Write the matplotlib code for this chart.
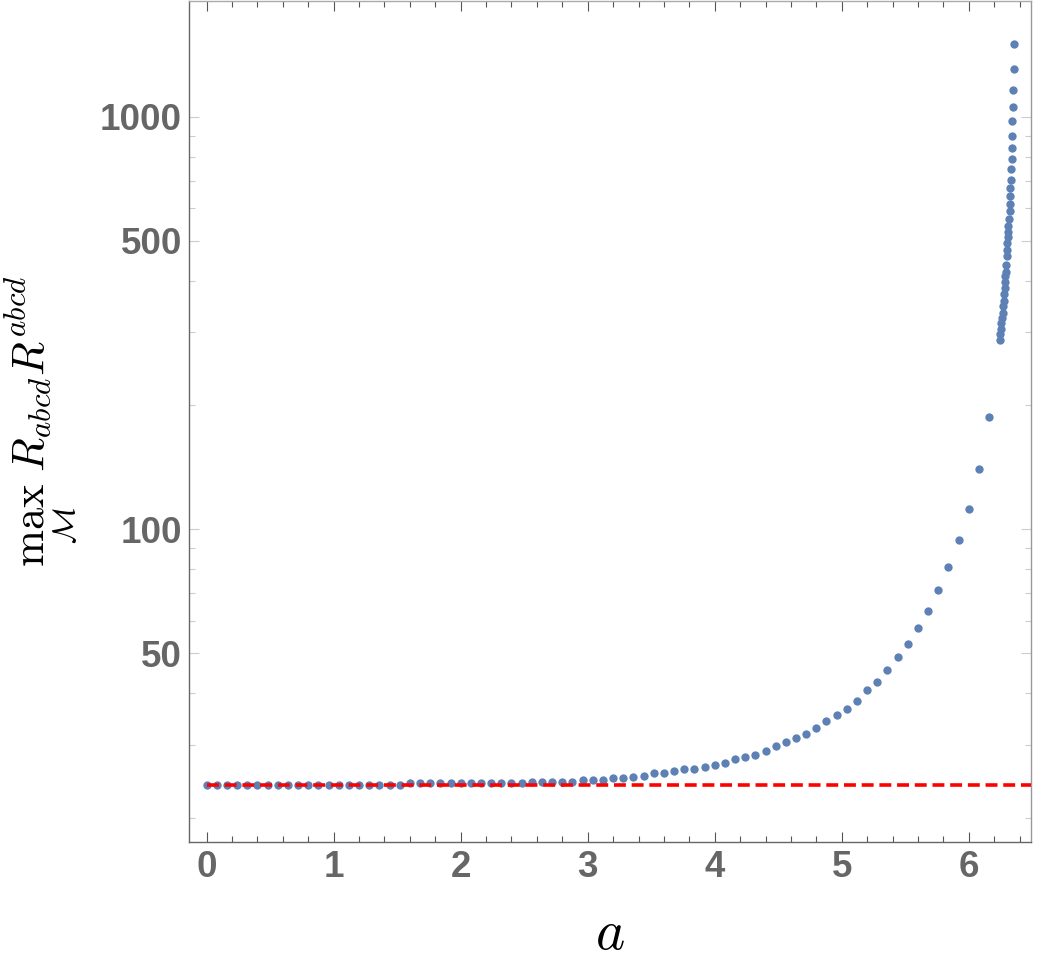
import matplotlib
matplotlib.use("Agg")
import matplotlib.pyplot as plt
from matplotlib.ticker import FixedLocator, NullFormatter

plt.rcParams["mathtext.fontset"] = "cm"

# sampled parameter values a and max curvature invariant
a_values = [
    0.00, 0.08, 0.16, 0.24, 0.32, 0.40, 0.48, 0.56, 0.64, 0.72,
    0.80, 0.88, 0.96, 1.04, 1.12, 1.20, 1.28, 1.36, 1.44, 1.52,
    1.60, 1.68, 1.76, 1.84, 1.92, 2.00, 2.08, 2.16, 2.24, 2.32,
    2.40, 2.48, 2.56, 2.64, 2.72, 2.80, 2.88, 2.96, 3.04, 3.12,
    3.20, 3.28, 3.36, 3.44, 3.52, 3.60, 3.68, 3.76, 3.84, 3.92,
    4.00, 4.08, 4.16, 4.24, 4.32, 4.40, 4.48, 4.56, 4.64, 4.72,
    4.80, 4.88, 4.96, 5.04, 5.12, 5.20, 5.28, 5.36, 5.44, 5.52,
    5.60, 5.68, 5.76, 5.84, 5.92, 6.00, 6.08, 6.16,
    6.244, 6.249, 6.255, 6.258, 6.262, 6.268, 6.272, 6.276, 6.279, 6.282,
    6.286, 6.289, 6.292, 6.296, 6.300, 6.302, 6.305, 6.307, 6.309, 6.313,
    6.318, 6.322, 6.324, 6.326, 6.328, 6.330, 6.335, 6.337, 6.339, 6.341,
    6.343, 6.345, 6.352, 6.355, 6.357,
]
max_kretschmann = [
    24.0, 24.0, 24.0, 24.0, 24.0, 24.0, 24.0, 24.0, 24.0, 24.0,
    24.0, 24.0, 24.0, 24.0, 24.0, 24.0, 24.0, 24.0, 24.0, 24.0,
    24.2, 24.2, 24.2, 24.2, 24.2, 24.2, 24.2, 24.2, 24.25, 24.25,
    24.25, 24.25, 24.45, 24.45, 24.45, 24.45, 24.45, 24.7, 24.7, 24.7,
    25.0, 25.0, 25.05, 25.3, 25.6, 25.6, 25.9, 26.2, 26.2, 26.55,
    26.85, 27.15, 27.75, 28.1, 28.4, 29.05, 29.75, 30.5, 31.2, 31.9,
    33.0, 34.2, 35.4, 36.7, 38.4, 40.7, 42.7, 45.7, 49.0, 52.6,
    57.7, 63.4, 71.2, 81.0, 94.2, 112.0, 140.0, 187.0,
    288, 298, 306, 317, 326, 335, 347, 358, 372, 385,
    398, 411, 420, 438, 460, 476, 493, 510, 526, 544,
    564, 591, 613, 641, 672, 704, 745, 791, 838, 898,
    975, 1057, 1160, 1302, 1497,
]
reference_value = 24.0

y_major = [50, 100, 500, 1000]
y_minor = [20, 30, 40, 60, 70, 80, 90, 200, 300, 400, 600, 700, 800, 900]
x_major = [0, 1, 2, 3, 4, 5, 6]

fig = plt.figure(figsize=(10.42, 9.71), dpi=100)
ax = fig.add_axes([0.1814, 0.1329, 0.808, 0.866])

ax.plot(a_values, max_kretschmann, "o", color="#5E81B5", ms=6.0, mec="none", zorder=2)
ax.hlines(reference_value, a_values[0], 6.49, colors="#FF0000", lw=2.6,
          linestyles=(0, (3.3, 1.6)), zorder=3)

ax.set_yscale("log")
ax.set_xlim(-0.139, 6.49)
ax.set_ylim(17.46, 1907)

ax.yaxis.set_major_locator(FixedLocator(y_major))
ax.yaxis.set_minor_locator(FixedLocator(y_minor))
ax.yaxis.set_minor_formatter(NullFormatter())
ax.set_yticklabels([str(v) for v in y_major])
ax.xaxis.set_major_locator(FixedLocator(x_major))
ax.xaxis.set_minor_locator(FixedLocator([i * 0.2 for i in range(33) if i % 5]))
ax.set_xticklabels([str(v) for v in x_major])

label_font = {"family": "Liberation Sans", "weight": "bold", "size": 26.5}
for lab in ax.get_xticklabels() + ax.get_yticklabels():
    lab.set_fontproperties(matplotlib.font_manager.FontProperties(**label_font))
    lab.set_color("#666666")

ax.tick_params(axis="x", which="both", direction="in", top=True, bottom=True,
               color="#555555", width=0.8, pad=6)
ax.tick_params(axis="x", which="major", length=7)
ax.tick_params(axis="x", which="minor", length=4)
ax.tick_params(axis="y", which="both", direction="in", left=True, right=True,
               color="#cccccc", width=0.8, pad=5)
ax.tick_params(axis="y", which="major", length=7)
ax.tick_params(axis="y", which="minor", length=4)

ax.spines["left"].set_color("#666666")
ax.spines["bottom"].set_color("#666666")
ax.spines["top"].set_color("#aaaaaa")
ax.spines["right"].set_color("#999999")
for s in ax.spines.values():
    s.set_linewidth(1.0)

ax.set_xlabel(r"$a$", fontsize=40)
ax.xaxis.set_label_coords(0.5, -0.077)
ax.set_ylabel(r"$\max_{\mathcal{M}}\ R_{abcd}\!R^{abcd}$", fontsize=32)
ax.yaxis.set_label_coords(-0.13, 0.5)

fig.savefig("out.png", dpi=100)
